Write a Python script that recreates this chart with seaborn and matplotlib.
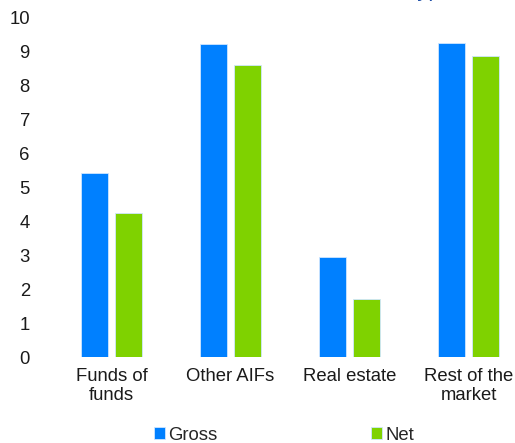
import numpy as np
import pandas as pd
import seaborn as sns
import matplotlib.pyplot as plt
from matplotlib.patches import Patch

# %% Data

categories = ["Funds of\nfunds", "Other AIFs", "Real estate", "Rest of the\nmarket"]
gross = [5.4, 9.2, 2.95, 9.25]
net = [4.25, 8.6, 1.7, 8.85]
series = ["Gross", "Net"]
colors = ["#0080FF", "#7FD200"]

df = pd.DataFrame({
    "category": categories * 2,
    "value": gross + net,
    "series": [series[0]] * 4 + [series[1]] * 4,
})

# %% Plot

sns.set_style("white")
plt.rcParams["font.family"] = ["Liberation Sans", "DejaVu Sans"]

fig = plt.figure(figsize=(5.15, 4.43), dpi=100)
ax = fig.add_axes([52 / 515, 86 / 443, 463 / 515, 340 / 443])

sns.barplot(data=df, x="category", y="value", hue="series",
            palette=colors, saturation=1, width=0.571, gap=0.2, ax=ax,
            edgecolor="#cfe6ff", linewidth=0.6, legend=False)

ax.set_xlim(-0.5, 3.39)
ax.set_ylim(0, 10)
ax.set_yticks(range(0, 11))
ax.set_xlabel("")
ax.set_ylabel("")
sns.despine(ax=ax, left=True, bottom=True)
ax.tick_params(axis="y", length=0, pad=16, labelsize=13.3, labelcolor="#1a1a1a")
ax.tick_params(axis="x", length=0, pad=8, labelsize=13.3, labelcolor="#1a1a1a")
for lab in ax.get_yticklabels():
    lab.set_horizontalalignment("right")
for lab in ax.get_xticklabels():
    lab.set_linespacing(1.15)

# clipped title fragment at the top
fig.text(412 / 515, 1.0 + 4 / 443, "type", color="#1F4FA8", fontsize=16,
         ha="left", va="baseline")

handles = [Patch(facecolor=c, edgecolor="#cfe6ff", linewidth=0.6) for c in colors]
fig.legend(handles, series, loc="center", bbox_to_anchor=(284 / 515, 8 / 443),
           ncol=2, frameon=False, fontsize=13.3, handlelength=0.6,
           handleheight=0.6, handletextpad=0.2, columnspacing=8.3,
           borderaxespad=0)

plt.savefig("out.png", dpi=100)
